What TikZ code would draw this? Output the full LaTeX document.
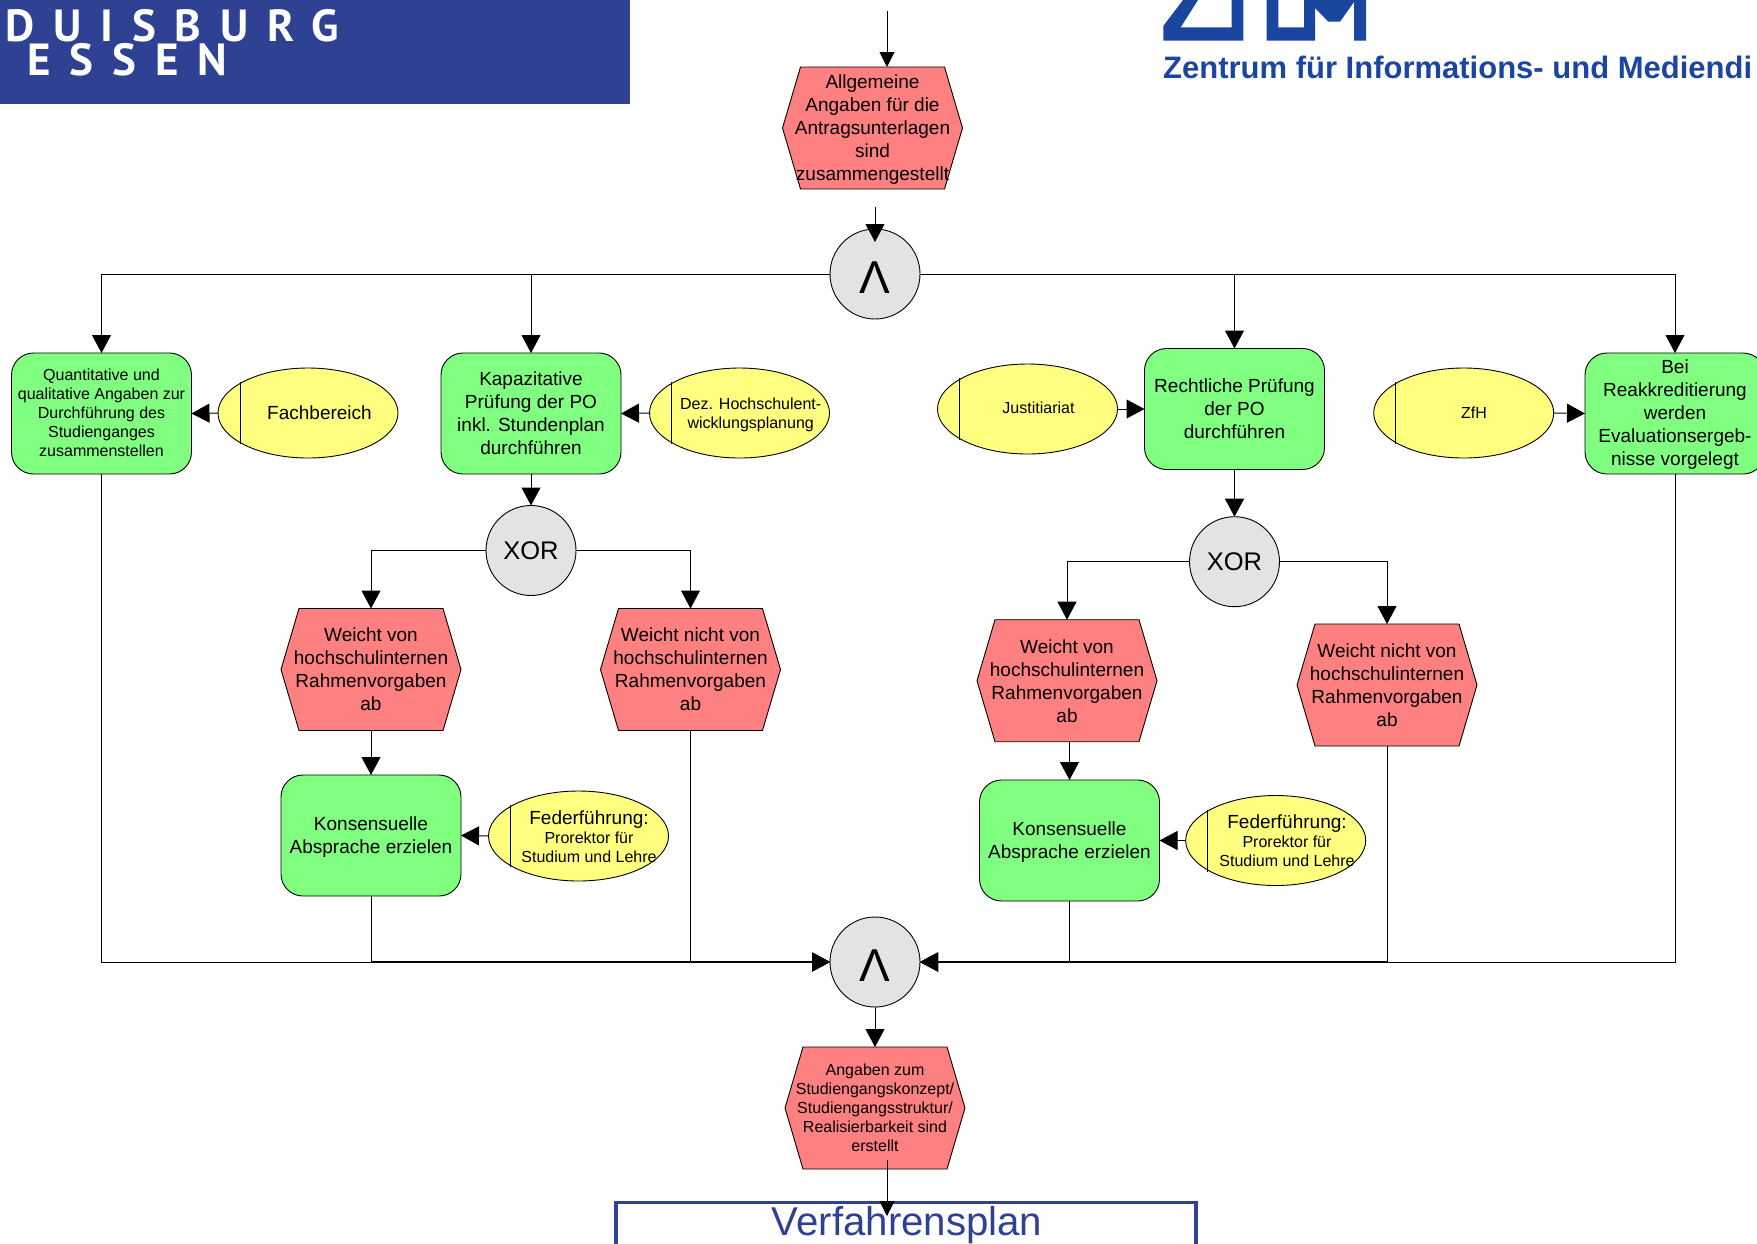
\documentclass[tikz,border=0pt]{standalone}
\usepackage{fontspec}
\setmainfont{Liberation Sans}
\newfontfamily\duefont[LetterSpace=42]{PT Sans}
\usetikzlibrary{arrows.meta,shapes.geometric,calc}
\definecolor{evred}{HTML}{FF8080}
\definecolor{fngreen}{HTML}{80FF80}
\definecolor{orgyellow}{HTML}{FFFF80}
\definecolor{gategrey}{HTML}{E3E3E3}
\definecolor{unidue}{HTML}{2E4192}
\definecolor{zimblue}{HTML}{1A46A0}
\tikzset{
  x=1pt,y=-1pt,
  big/.style={font=\fontsize{19}{23}\selectfont,align=center},
  small/.style={font=\fontsize{16}{19}\selectfont,align=center},
  outlined/.style={draw=black,line width=0.9pt},
  evbox/.style={minimum width=180pt,minimum height=122pt,inner sep=0pt,outer sep=0pt},
  fnbox/.style={outlined,fill=fngreen,rounded corners=22pt,minimum width=180pt,minimum height=121pt,inner sep=0pt,outer sep=0pt},
  orgell/.style={outlined,fill=orgyellow,ellipse,minimum width=180pt,minimum height=90pt,inner sep=0pt,outer sep=0pt},
  gate/.style={outlined,fill=gategrey,circle,minimum size=90pt,inner sep=0pt,outer sep=0pt},
  conn/.style={draw=black,line width=1pt},
  arr/.style={conn,-{Triangle[length=18pt,width=19pt]}},
  arrsmall/.style={conn,-{Triangle[length=15pt,width=15pt]}},
}
\newcommand{\evhex}[5]{% name, x, y, style, text
  \draw[outlined,fill=evred,shift={(#2,#3)}] (-90,0)--(-72,-61)--(72,-61)--(90,0)--(72,61)--(-72,61)--cycle;
  \node[evbox,#4] (#1) at (#2,#3) {#5};
}
\newcommand{\orgunit}[3]{% name, x, y
  \node[orgell] (#1) at (#2,#3) {};
  \draw[outlined] ($(#1.west)+(22,-31)$) -- ($(#1.west)+(22,31)$);
}
\newcommand{\downby}[2]{\raisebox{-#1}[\height][\depth]{\begin{tabular}{@{}c@{}}#2\end{tabular}}}
\newcommand{\wedgesign}{\raisebox{-19.5pt}[0pt][0pt]{Λ}}
\begin{document}
\begin{tikzpicture}
\path[use as bounding box] (0,0) rectangle (1757,1243);
\clip (0,0) rectangle (1757,1243);

% logos
\fill[unidue] (0,0) rectangle (630,103.7);
\node[anchor=base west,inner sep=0pt,text=white,font=\fontsize{45}{45}\duefont\bfseries] (duisburg) at (5,41.3) {DUISBURG};
\node[anchor=base west,inner sep=0pt,text=white,font=\fontsize{45}{45}\duefont\bfseries] (essen) at (27,75) {ESSEN};
\fill[zimblue] (1163.3,40.7)--(1163.3,26)--(1183,0)--(1198,0)--(1180.7,27.3)--(1231.7,27.3)--(1231.7,0)--(1243.3,0)--(1243.3,40.7)--cycle;
\fill[zimblue] (1266.7,40.7)--(1266.7,0)--(1278.3,0)--(1278.3,27.3)--(1304,27.3)--(1304,0)--(1315,0)--(1315,40.7)--cycle;
\fill[zimblue] (1315,0)--(1315,8)--(1328.3,21.7)--(1340,21.7)--(1354,2)--(1354,40.7)--(1366,40.7)--(1366,0)--cycle;
\node[anchor=base west,inner sep=0pt,text=zimblue,font=\fontsize{31}{31}\selectfont\bfseries] (zimtext) at (1163,78) {Zentrum für Informations- und Mediendi};

% free connector ends
\coordinate (topstart) at (887,11);
\coordinate (gatestart) at (875,207);
\coordinate (gatetip) at (875,242);
\coordinate (vpstart) at (887,1160);
\coordinate (vptip) at (887,1216);

% shapes
\evhex{ev1}{872.5}{128}{big}{\downby{2pt}{Allgemeine\\Angaben für die\\Antragsunterlagen\\sind\\zusammengestellt}}
\node[gate,font=\fontsize{46}{46}\selectfont] (and1) at (875,274) {\wedgesign};

\node[fnbox,small] (f1) at (101.5,413.5) {\downby{1.2pt}{Quantitative und\\qualitative Angaben zur\\Durchführung des\\Studienganges\\zusammenstellen}};
\node[fnbox,big] (f2) at (531,413.5) {Kapazitative\\Prüfung der PO\\inkl. Stundenplan\\durchführen};
\node[fnbox,big] (f3) at (1234.5,409) {Rechtliche Prüfung\\der PO\\durchführen};
\node[fnbox,big] (f4) at (1675,413.5) {\downby{1pt}{Bei\\Reakkreditierung\\werden\\Evaluationsergeb-\\nisse vorgelegt}};

\orgunit{o1}{308}{413}
\node[big,inner sep=0pt] (o1t) at (319.5,413) {Fachbereich};
\orgunit{o2}{739.5}{413}
\node[small,inner sep=0pt] (o2t) at (750.7,415) {Dez. Hochschulent-\\wicklungsplanung};
\orgunit{o3}{1027.5}{409}
\node[small,inner sep=0pt] (o3t) at (1038.5,408) {Justitiariat};
\orgunit{o4}{1463.7}{413}
\node[small,inner sep=0pt] (o4t) at (1474,413) {ZfH};

\node[gate,font=\fontsize{25.5}{25.5}\selectfont] (x1) at (531,550.5) {XOR};
\node[gate,font=\fontsize{25.5}{25.5}\selectfont] (x2) at (1234.5,561.7) {XOR};

\evhex{e1}{371}{669.5}{big}{Weicht von\\hochschulinternen\\Rahmenvorgaben\\ab}
\evhex{e2}{690.5}{669.5}{big}{Weicht nicht von\\hochschulinternen\\Rahmenvorgaben\\ab}
\evhex{e3}{1067}{680.7}{big}{Weicht von\\hochschulinternen\\Rahmenvorgaben\\ab}
\evhex{e4}{1387}{685}{big}{Weicht nicht von\\hochschulinternen\\Rahmenvorgaben\\ab}

\node[fnbox,big] (k1) at (371,835.5) {\downby{2pt}{Konsensuelle\\Absprache erzielen}};
\node[fnbox,big] (k2) at (1069.5,840.5) {\downby{2pt}{Konsensuelle\\Absprache erzielen}};

\orgunit{o5}{578.5}{836}
\node[inner sep=0pt,align=center,font=\fontsize{16}{19}\selectfont] (o5t) at (589,837) {{\fontsize{19}{19}\selectfont Federführung:}\\Prorektor für\\Studium und Lehre};
\orgunit{o6}{1275.7}{840.5}
\node[inner sep=0pt,align=center,font=\fontsize{16}{19}\selectfont] (o6t) at (1287,841) {{\fontsize{19}{19}\selectfont Federführung:}\\Prorektor für\\Studium und Lehre};

\node[gate,font=\fontsize{46}{46}\selectfont] (and2) at (875,962) {\wedgesign};
\evhex{ev2}{875}{1108}{small}{Angaben zum\\Studiengangskonzept/\\Studiengangsstruktur/\\Realisierbarkeit sind\\erstellt}

% connectors
\draw[arrsmall] (topstart) -- (topstart |- ev1.north);
\draw[arr] (gatestart) -- (gatetip);
\draw[arr] (and1.west) -| (f1.north);
\draw[arr] (and1.west) -| (f2.north);
\draw[arr] (and1.east) -| (f3.north);
\draw[arr] (and1.east) -| (f4.north);
\draw[arr] (o1.west) -- (f1.east);
\draw[arr] (o2.west) -- (f2.east);
\draw[arr] (o3.east) -- (f3.west);
\draw[arr] (o4.east) -- (f4.west);
\draw[arr] (f2.south) -- (x1.north);
\draw[arr] (f3.south) -- (x2.north);
\draw[arr] (x1.west) -| (e1.north);
\draw[arr] (x1.east) -| (e2.north);
\draw[arr] (x2.west) -| (e3.north);
\draw[arr] (x2.east) -| (e4.north);
\draw[arr] (e1.south) -- (k1.north);
\draw[arr] (k2.north |- e3.south) -- (k2.north);
\draw[arr] (o5.west) -- (k1.east);
\draw[arr] (o6.west) -- (k2.east);
\draw[arr] (f1.south) |- (and2.west);
\draw[arr] (k1.south) |- (and2.west);
\draw[arr] (e2.south) |- (and2.west);
\draw[arr] (f4.south) |- (and2.east);
\draw[arr] (k2.south) |- (and2.east);
\draw[arr] (e4.south) |- (and2.east);
\draw[conn,line width=1.7pt] (k1.south |- and2.west) -- ($(and2.west)+(-10,0)$);
\draw[conn,line width=1.7pt] (e4.south |- and2.east) -- ($(and2.east)+(10,0)$);
\draw[arr] (and2.south) -- (ev2.north);

% Verfahrensplan frame
\node[draw=unidue,line width=3.5pt,fill=white,minimum width=580pt,minimum height=100pt,inner sep=0pt] (vp) at (906,1252.7) {};
\node[anchor=base,inner sep=0pt,text=unidue,font=\fontsize{40.2}{40.2}\selectfont] (vpt) at (907,1235) {Verfahrensplan};
\draw[arrsmall] (vpstart) -- (vptip);
\end{tikzpicture}
\end{document}
